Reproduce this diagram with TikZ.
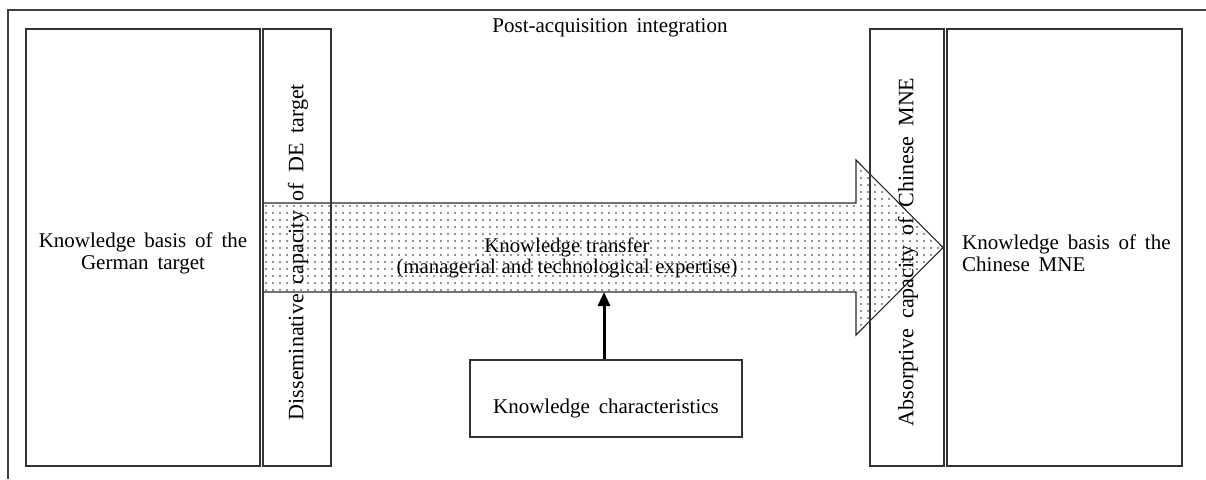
\documentclass[tikz,border=0pt]{standalone}
\usepackage{fontspec}
\setmainfont{Liberation Serif}
\usetikzlibrary{arrows.meta,patterns.meta}
\newcommand\myWideFont{\fontsize{21}{22}\selectfont\spaceskip 0.42em plus 0.1em\relax}
\newcommand\myVertFont{\fontsize{22}{23}\selectfont\spaceskip 0.45em\relax}
\newcommand\myNormFont{\fontsize{20.8}{21.8}\selectfont\spaceskip 0.28em\relax}
\tikzset{
  box/.style={draw=black!80, line width=1.3pt, inner sep=0pt},
  lbl/.style={font=\myWideFont, inner sep=0pt},
  vlbl/.style={font=\myVertFont, inner sep=0pt, rotate=90},
  tlbl/.style={font=\myNormFont, inner sep=0pt},
  frame/.style={draw=black!75, line width=1.3pt},
  transfer/.style={draw=black!85, line width=1.1pt, pattern={Dots[radius=0.8pt,distance=7pt]}, pattern color=black!85},
  infl/.style={draw=black, line width=3pt, -{Triangle[length=14pt,width=12pt]}}
}
\begin{document}
\begin{tikzpicture}[x=1pt,y=-1pt]
\useasboundingbox (0,0) rectangle (1206,479);
% open outer frame
\coordinate (fbl) at (8,479);
\coordinate (ftl) at (8,10);
\coordinate (ftr) at (1206,10);
\draw[frame] (fbl) -- (ftl) -- (ftr);
\node[lbl] (title) at (610,28) {Post-acquisition integration};
% transfer arrow
\draw[transfer] (263,203) -- (856,203) -- (856,160) -- (943,247.5) -- (856,335) -- (856,292) -- (263,292) -- cycle;
\coordinate (shaftb) at (604,292);
% boxes
\node[box, minimum width=234pt, minimum height=437pt] (german) at (143,247.5) {};
\node[lbl, align=center] (germantxt) at (143,253) {Knowledge basis of the\\German target};
\node[box, minimum width=68pt, minimum height=437pt] (dissem) at (297,247.5) {};
\node[vlbl] (dissemtxt) at (298,252) {Disseminative capacity of DE target};
\node[box, minimum width=74pt, minimum height=437pt] (absorb) at (907,247.5) {};
\node[vlbl] (absorbtxt) at (908,252) {Absorptive capacity of Chinese MNE};
\node[box, minimum width=235pt, minimum height=437pt] (chinese) at (1064.5,247.5) {};
\node[lbl, align=left, anchor=west] (chinesetxt) at (962,253) {Knowledge basis of the\\Chinese MNE};
\node[tlbl, align=center] (transfertxt) at (567,258) {Knowledge transfer\\(managerial and technological expertise)};
\node[box, minimum width=272pt, minimum height=77pt] (kc) at (606,398.5) {};
\node[lbl] (kctxt) at (606,408) {Knowledge characteristics};
\draw[infl] (kc.north -| shaftb) -- (shaftb);
\end{tikzpicture}
\end{document}
